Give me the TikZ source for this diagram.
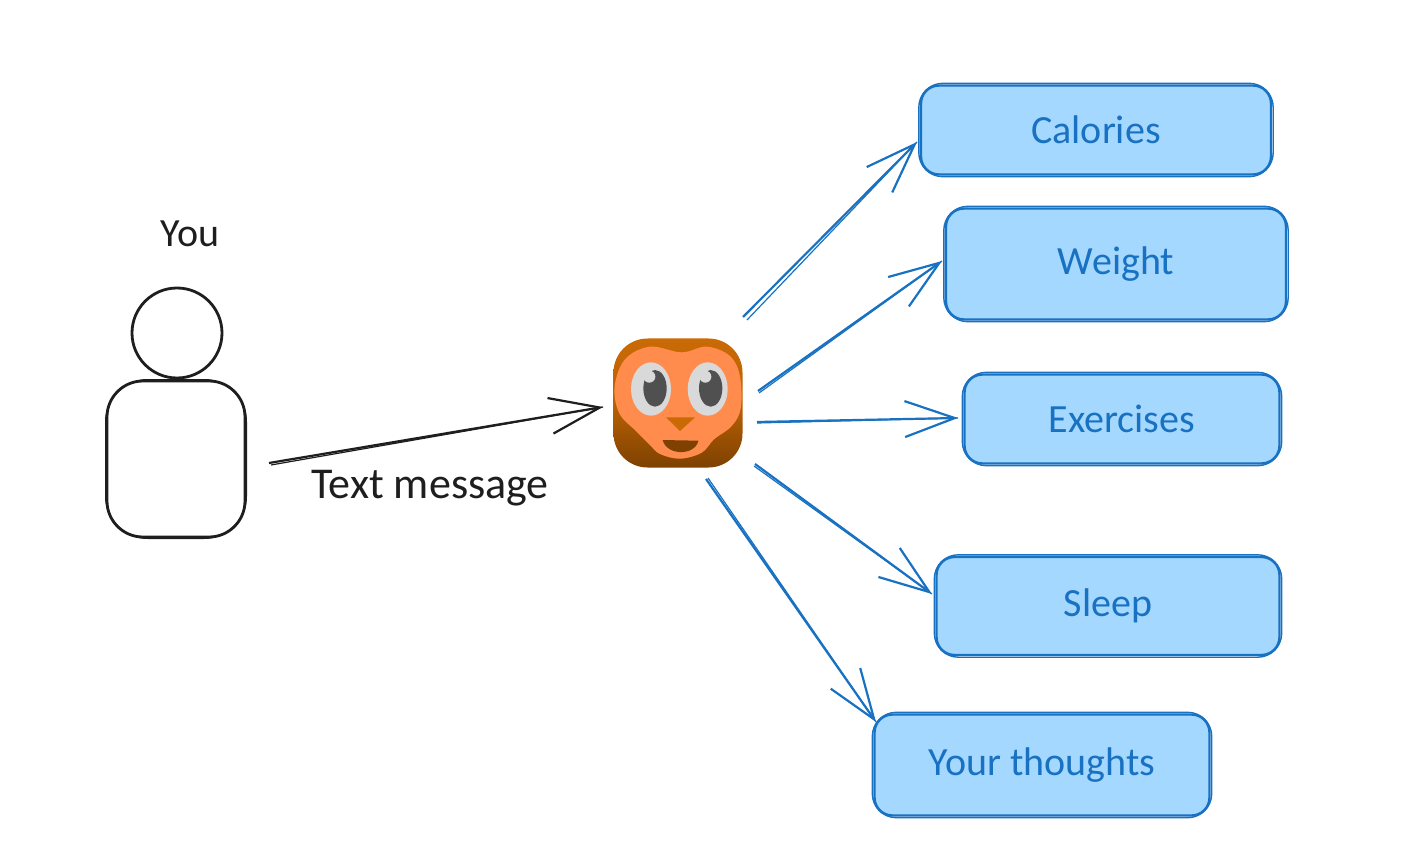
\documentclass[tikz,border=0pt]{standalone}
\usepackage{fontspec}
\setmainfont{Carlito}
\usetikzlibrary{arrows.meta, positioning}
\definecolor{inkblue}{HTML}{1971C2}
\definecolor{paleblue}{HTML}{A5D8FF}
\definecolor{ink}{HTML}{1E1E1E}
\definecolor{owlskin}{HTML}{FF8C4D}
\definecolor{owltop}{HTML}{C96A05}
\definecolor{owlbottom}{HTML}{7E4102}
\definecolor{owleye}{HTML}{D9D9D9}
\definecolor{owlpupil}{HTML}{505050}

\begin{document}
\begin{tikzpicture}[x = 0.5pt, y = -0.5pt, > = {Straight Barb[length = 25pt, width = 18pt]},
field/.style={ rectangle, draw = inkblue, fill = paleblue, text = inkblue, line width = 1.2pt, rounded corners = 9pt, inner sep = 0pt, font = \fontsize{20}{24}\selectfont },
retrace/.style={ draw = inkblue, line width = 0.7pt, rounded corners = 12pt },
person/.style={ draw = ink, line width = 1.4pt, inner sep = 0pt },
caption/.style={ text = ink, inner sep = 0pt, font = \fontsize{20}{24}\selectfont },
feed/.style={ ->, draw = inkblue, line width = 1.1pt },
feedback/.style={ draw = inkblue, line width = 0.6pt },
send/.style={ ->, draw = ink, line width = 1.1pt },
sendback/.style={ draw = ink, line width = 0.6pt }
]
\useasboundingbox (0,0) rectangle (1414,845);

%the person on the left
\node (you) at (190,234) [caption] {You};
\node (head) at (177,333) [person, circle, minimum size = 45pt] {};
\node (body) at (176,459) [person, rectangle, rounded corners = 18pt, minimum width = 69pt, minimum height = 78pt] {};
\draw [sendback, rounded corners = 21pt] (body.north west) rectangle (body.south east);

%the owl, coordinates taken from the crop
\node (owl) at (678,403) [rectangle, rounded corners = 17pt, minimum size = 64.5pt, inner sep = 0pt, top color = owltop, bottom color = owlbottom, middle color = owltop!80!owlbottom] {};
\begin{scope}[shift={(590,320)}, x = 0.1667pt, y = -0.1667pt]
\fill [owlskin] plot [smooth cycle, tension = 0.6] coordinates {(275,97) (180,80) (105,118) (74,200) (88,280) (140,335) (180,375) (210,402) (270,416) (335,398) (372,358) (425,318) (452,265) (450,170) (420,108) (350,80)};
\fill [owleye] (183,207) ellipse [x radius = 60, y radius = 80];
\fill [owleye] (353,207) ellipse [x radius = 60, y radius = 80];
\fill [owlpupil] (195,205) ellipse [x radius = 35, y radius = 55];
\fill [owlpupil] (362,205) ellipse [x radius = 35, y radius = 55];
\fill [owleye] (178,170) circle [radius = 18];
\fill [owleye] (346,170) circle [radius = 18];
\fill [owltop] (228,292) -- (315,292) -- (270,333) -- cycle;
\fill [owlbottom] (218,360) -- (325,362) .. controls (315,408) and (230,408) .. cycle;
\end{scope}

%the boxes on the right
\node (calories) at (1096,130) [field, minimum width = 175pt, minimum height = 44.5pt] {Calories};
\node (weight) at (1116,264) [field, minimum width = 170pt, minimum height = 55.5pt] {Weight};
\node (exercises) at (1122,419) [field, minimum width = 157.5pt, minimum height = 44.5pt] {Exercises};
\node (sleep) at (1108,606) [field, minimum width = 171.5pt, minimum height = 49pt] {Sleep};
\node (thoughts) at (1042,765) [field, minimum width = 167.5pt, minimum height = 50.5pt] {Your thoughts};
\foreach \boxname in {calories, weight, exercises, sleep, thoughts}
	\draw [retrace] ([shift={(-1,-1)}]\boxname.north west) rectangle ([shift={(1,1)}]\boxname.south east);

%free ends of the arrows, they stop short of the shapes
\coordinate (youout) at (269,463);
\coordinate (owlin) at (603,407);
\coordinate (calout) at (743,317);
\coordinate (calin) at (917,142);
\coordinate (weiout) at (758,391);
\coordinate (weiin) at (942,261);
\coordinate (exeout) at (757,422);
\coordinate (exein) at (958,418);
\coordinate (sleout) at (755,464);
\coordinate (slein) at (932,594);
\coordinate (thoout) at (706,479);
\coordinate (thoin) at (876,722);

\draw [send] (youout) -- (owlin);
\draw [sendback] ([shift={(2,2)}]youout) -- (owlin);
\draw [feed] (calout) -- (calin);
\draw [feedback] ([shift={(4,3)}]calout) -- (calin);
\draw [feed] (weiout) -- (weiin);
\draw [feedback] ([shift={(1,2)}]weiout) -- (weiin);
\draw [feed] (exeout) -- (exein);
\draw [feedback] ([shift={(0,1)}]exeout) -- (exein);
\draw [feed] (sleout) -- (slein);
\draw [feedback] ([shift={(-1,2)}]sleout) -- (slein);
\draw [feed] (thoout) -- (thoin);
\draw [feedback] ([shift={(2,-1)}]thoout) -- (thoin);

\node (textmsg) at (430,488) [caption, font = \fontsize{22}{26}\selectfont] {Text message};
\end{tikzpicture}
\end{document}
